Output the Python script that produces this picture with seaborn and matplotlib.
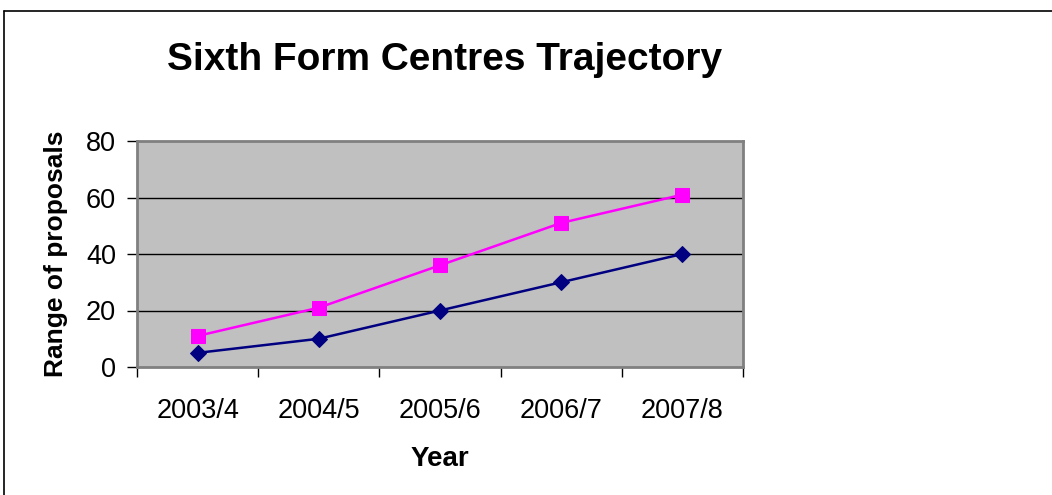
import matplotlib
matplotlib.use("Agg")
import matplotlib.pyplot as plt
import seaborn as sns
import pandas as pd
from matplotlib.lines import Line2D
from matplotlib.ticker import FixedLocator, NullFormatter

years = ["2003/4", "2004/5", "2005/6", "2006/7", "2007/8"]
series_upper = [11, 21, 36, 51, 61]
series_lower = [5, 10, 20, 30, 40]
y_ticks = [0, 20, 40, 60, 80]

sns.set_theme(style="white")
plt.rcParams['font.family'] = ['Liberation Sans', 'DejaVu Sans']
plt.rcParams['text.color'] = 'black'
plt.rcParams['axes.labelcolor'] = 'black'
plt.rcParams['xtick.color'] = 'black'
plt.rcParams['ytick.color'] = 'black'

W, H = 1052, 495
fig = plt.figure(figsize=(W / 100, H / 100), dpi=100)
ax = fig.add_axes([137 / W, 1 - 367 / H, (743 - 137) / W, (367 - 141) / H])
ax.set_facecolor("#C0C0C0")

df = pd.DataFrame({
    "Year": years * 2,
    "Value": series_upper + series_lower,
    "Series": ["upper"] * 5 + ["lower"] * 5,
})
df["x"] = list(range(5)) * 2

sns.lineplot(data=df[df.Series == "upper"], x="x", y="Value", ax=ax,
             color="#FF00FF", lw=1.8, marker="s", markersize=9.5,
             markeredgecolor="#FF00FF", legend=False, zorder=4)
sns.lineplot(data=df[df.Series == "lower"], x="x", y="Value", ax=ax,
             color="#000080", lw=1.8, marker="D", markersize=8.5,
             markeredgecolor="#000080", legend=False, zorder=4)

ax.set_xlim(-0.5, 4.5)
ax.set_ylim(0, 80)
ax.set_yticks(y_ticks)
ax.set_yticklabels([str(v) for v in y_ticks])
ax.xaxis.set_major_locator(FixedLocator([i - 0.5 for i in range(6)]))
ax.xaxis.set_major_formatter(NullFormatter())
ax.xaxis.set_minor_locator(FixedLocator(list(range(5))))
ax.set_xticklabels(years, minor=True)
ax.tick_params(axis="x", which="major", direction="out", length=7, width=1,
               color="black", bottom=True)
ax.tick_params(axis="x", which="minor", length=0, pad=22, labelsize=19.5,
               labelcolor="black")
ax.tick_params(axis="y", direction="out", length=7, width=1, color="black",
               left=True, labelsize=19.5, pad=8, labelcolor="black")

for v in y_ticks[1:-1]:
    ax.axhline(v, color="black", lw=1.0, zorder=1)

for s in ax.spines.values():
    s.set_color("#808080")
    s.set_linewidth(2)
    s.set_visible(True)

ax.set_xlabel("Year", fontsize=20, fontweight="bold", labelpad=16, color="black")
ax.set_ylabel("Range of proposals", fontsize=19, fontweight="bold", labelpad=13,
              color="black")
fig.text(445 / W, 1 - 60 / H, "Sixth Form Centres Trajectory", fontsize=28,
         fontweight="bold", ha="center", va="center", color="black")

# outer chart border
fig.add_artist(Line2D([4 / W, 4 / W], [0, 1 - 11 / H], transform=fig.transFigure,
                      color="black", lw=1.2))
fig.add_artist(Line2D([4 / W, 1], [1 - 11 / H, 1 - 11 / H], transform=fig.transFigure,
                      color="black", lw=1.2))

fig.savefig("out.png", dpi=100, facecolor="white")
